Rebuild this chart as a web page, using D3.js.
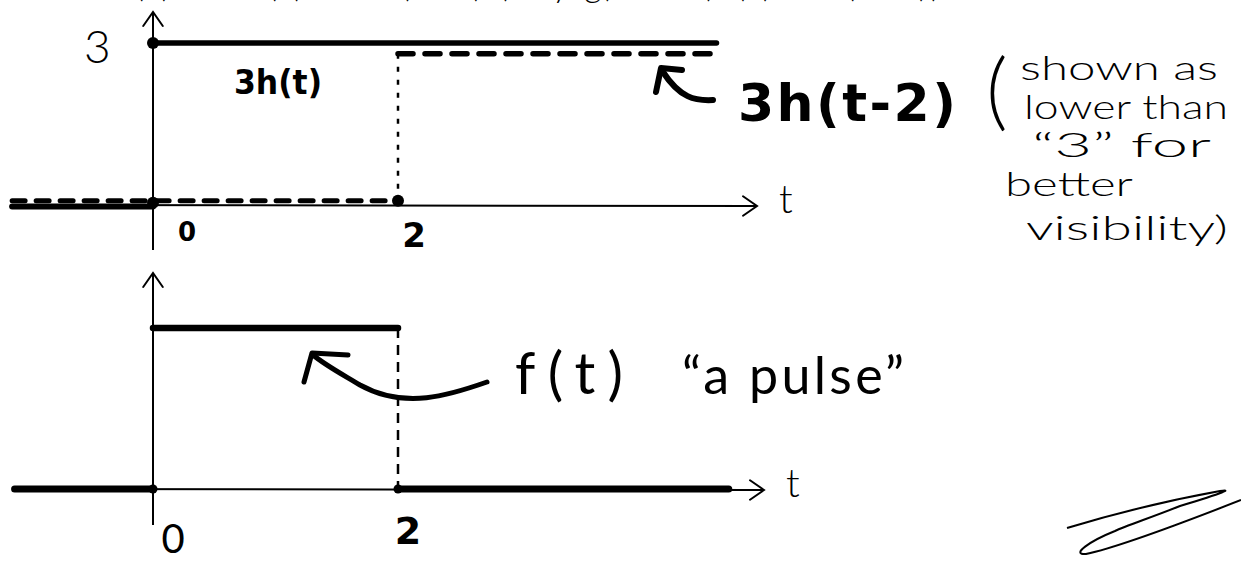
<!DOCTYPE html>
<html>
<head>
<meta charset="utf-8">
<script src="https://cdn.jsdelivr.net/npm/d3@7"></script>
<style>
  html, body { margin: 0; padding: 0; background: #ffffff; }
  svg { display: block; }
</style>
</head>
<body>
<div id="sketch"></div>
<script>
// Hand sketch: 3h(t) and 3h(t-2) on top, their difference f(t) (a pulse) below

const tTicks = [0, 2];

// top panel: the two shifted steps
const step3h = [[0, 3], [4.6, 3]];
const step3hZero = [[-1.15, -0.03], [0, -0.03]];
// 3h(t-2) is drawn a bit lower than 3 so the two lines stay apart
const step3hShift = [[2, 2.8], [4.55, 2.8]];
const step3hShiftZero = [[-1.15, 0.08], [2, 0.08]];

// bottom panel: the pulse f(t) = 3h(t) - 3h(t-2)
const pulseOn = [[0, 3], [2, 3]];
const pulseOffLeft = [[-1.13, 0], [0, 0]];
const pulseOffRight = [[2, 0], [4.7, 0]];

const noteLines = ["shown as", "lower than", "\u201c3\u201d for", "better", "visibility)"];

function draw() {
  const width = 1241;
  const height = 571;
  const ink = "#000000";
  const fontPen = '"Lato", "DejaVu Sans", sans-serif';
  const fontBold = '"DejaVu Sans", "Noto Sans", sans-serif';

  const svg = d3.select("#sketch")
    .append("svg")
    .attr("width", width)
    .attr("height", height)
    .attr("viewBox", [0, 0, width, height]);

  svg.append("rect").attr("width", width).attr("height", height).attr("fill", "#fff");

  const x = d3.scaleLinear().domain([0, 2]).range([153, 398]);
  const yTop = d3.scaleLinear().domain([0, 3]).range([205, 43]);
  const yBot = d3.scaleLinear().domain([0, 3]).range([489, 328]);

  // line of writing cut off by the top edge, only its descenders show
  svg.append("text")
    .attr("x", 120)
    .attr("y", -3)
    .attr("fill", ink)
    .attr("font-size", 34)
    .attr("font-weight", 300)
    .attr("font-family", fontPen)
    .attr("textLength", 820)
    .text("f(t) = 3h(t) \u2212 3h(t\u22122)   (any g)  =  3 (h(t) \u2212 h(t\u22122))");

  function seg(g, y, pts, width, dash) {
    g.append("path")
      .attr("d", d3.line().x(function(d) { return x(d[0]); }).y(function(d) { return y(d[1]); })(pts))
      .attr("fill", "none")
      .attr("stroke", ink)
      .attr("stroke-width", width)
      .attr("stroke-linecap", "round")
      .attr("stroke-dasharray", dash || null);
  }

  function arrowHead(g, px, py, dir, size) {
    // open V arrow head, dir = "up" or "right"
    let d;
    if (dir === "up") {
      d = "M" + (px - size * 0.7) + "," + (py + size) + "L" + px + "," + py + "L" + (px + size * 0.7) + "," + (py + size);
    } else {
      d = "M" + (px - size) + "," + (py - size * 0.7) + "L" + px + "," + py + "L" + (px - size) + "," + (py + size * 0.7);
    }
    g.append("path").attr("d", d).attr("fill", "none")
      .attr("stroke", ink).attr("stroke-width", 2).attr("stroke-linecap", "round");
  }

  function axes(g, y, yLow, yHigh, xEnd) {
    g.append("line")
      .attr("x1", x(0)).attr("x2", x(0))
      .attr("y1", yLow).attr("y2", yHigh)
      .attr("stroke", ink).attr("stroke-width", 2);
    arrowHead(g, x(0), yHigh, "up", 14);
    g.append("line")
      .attr("x1", x(-1.15)).attr("x2", xEnd)
      .attr("y1", y(0)).attr("y2", y(0) + 1)
      .attr("stroke", ink).attr("stroke-width", 2);
    arrowHead(g, xEnd, y(0) + 1, "right", 14);
    g.append("text")
      .attr("x", xEnd + 22).attr("y", y(0) + 8)
      .attr("fill", ink).attr("font-size", 40).attr("font-weight", 300)
      .attr("font-family", fontPen).text("t");
  }

  // ---------- top panel ----------
  const top = svg.append("g");
  axes(top, yTop, 250, 12, 757);

  top.append("text")
    .attr("x", 84).attr("y", 63)
    .attr("fill", ink).attr("font-size", 46).attr("font-weight", 300)
    .attr("font-family", fontPen).text("3");

  seg(top, yTop, step3hZero, 6);
  seg(top, yTop, step3h, 5.5);
  seg(top, yTop, step3hShiftZero, 5, "13,11");
  seg(top, yTop, step3hShift, 5.5, "15,12");
  // dotted drop at t = 2
  top.append("line")
    .attr("x1", x(2)).attr("x2", x(2))
    .attr("y1", yTop(2.8)).attr("y2", yTop(0.08))
    .attr("stroke", ink).attr("stroke-width", 2.5).attr("stroke-dasharray", "5,8");

  [[0, 3], [0, 0.04], [2, 0.08]].forEach(function(p) {
    top.append("circle").attr("cx", x(p[0])).attr("cy", yTop(p[1])).attr("r", 6).attr("fill", ink);
  });

  top.selectAll("text.tick")
    .data(tTicks)
    .join("text")
    .attr("class", "tick")
    .attr("x", function(d) { return x(d) + (d === 0 ? 34 : 16); })
    .attr("y", function(d) { return d === 0 ? 241 : 247; })
    .attr("text-anchor", "middle")
    .attr("fill", ink)
    .attr("font-size", function(d) { return d === 0 ? 26 : 34; })
    .attr("font-weight", "bold")
    .attr("font-family", fontBold)
    .text(function(d) { return d; });

  top.append("text")
    .attr("x", 234).attr("y", 94)
    .attr("fill", ink).attr("font-size", 34).attr("font-weight", "bold")
    .attr("font-family", fontBold).attr("textLength", 88)
    .attr("lengthAdjust", "spacingAndGlyphs")
    .text("3h(t)");

  // curved pointer to the dashed line
  top.append("path")
    .attr("d", "M713,100 C695,101 680,98 663,72")
    .attr("fill", "none").attr("stroke", ink).attr("stroke-width", 6).attr("stroke-linecap", "round");
  top.append("path")
    .attr("d", "M656,92 L661,68 L682,70")
    .attr("fill", "none").attr("stroke", ink).attr("stroke-width", 6)
    .attr("stroke-linecap", "round").attr("stroke-linejoin", "round");

  top.append("text")
    .attr("x", 738).attr("y", 121)
    .attr("fill", ink).attr("font-size", 52).attr("font-weight", "bold")
    .attr("font-family", fontBold).attr("textLength", 218)
    .text("3h(t-2)");

  // side note
  const note = svg.append("g");
  note.append("text")
    .attr("x", 986).attr("y", 120)
    .attr("fill", ink).attr("font-size", 84).attr("font-weight", 300)
    .attr("font-family", fontPen).text("(");
  note.selectAll("text.note")
    .data(noteLines)
    .join("text")
    .attr("class", "note")
    .attr("x", function(d, i) { return [1020, 1024, 1032, 1005, 1026][i]; })
    .attr("y", function(d, i) { return [80, 119, 157, 196, 240][i]; })
    .attr("textLength", function(d, i) { return [198, 204, 179, 128, 202][i]; })
    .attr("lengthAdjust", "spacingAndGlyphs")
    .attr("fill", ink)
    .attr("font-size", 34)
    .attr("font-weight", 300)
    .attr("font-family", fontPen)
    .text(function(d) { return d; });

  // ---------- bottom panel ----------
  const bot = svg.append("g");
  axes(bot, yBot, 525, 273, 764);

  seg(bot, yBot, pulseOffLeft, 7);
  seg(bot, yBot, pulseOn, 6.5);
  seg(bot, yBot, pulseOffRight, 7);
  bot.append("line")
    .attr("x1", x(2)).attr("x2", x(2))
    .attr("y1", yBot(3)).attr("y2", yBot(0))
    .attr("stroke", ink).attr("stroke-width", 2.5).attr("stroke-dasharray", "10,7");
  [[0, 0], [2, 0]].forEach(function(p) {
    bot.append("circle").attr("cx", x(p[0])).attr("cy", yBot(p[1])).attr("r", 4.5).attr("fill", ink);
  });

  bot.selectAll("text.tick")
    .data(tTicks)
    .join("text")
    .attr("class", "tick")
    .attr("x", function(d) { return x(d) + (d === 0 ? 20 : 10); })
    .attr("y", function(d) { return d === 0 ? 553 : 544; })
    .attr("text-anchor", "middle")
    .attr("fill", ink)
    .attr("font-size", function(d) { return d === 0 ? 40 : 38; })
    .attr("font-weight", function(d) { return d === 0 ? 400 : "bold"; })
    .attr("font-family", function(d) { return d === 0 ? fontPen : fontBold; })
    .text(function(d) { return d; });

  // curved pointer to the pulse
  bot.append("path")
    .attr("d", "M487,382 C450,395 405,410 360,385 C340,373 325,365 313,355")
    .attr("fill", "none").attr("stroke", ink).attr("stroke-width", 5).attr("stroke-linecap", "round");
  bot.append("path")
    .attr("d", "M304,382 L312,353 L348,355")
    .attr("fill", "none").attr("stroke", ink).attr("stroke-width", 5)
    .attr("stroke-linecap", "round").attr("stroke-linejoin", "round");

  bot.append("text")
    .attr("x", 515).attr("y", 394)
    .attr("fill", ink).attr("font-size", 58).attr("font-weight", 400)
    .attr("font-family", fontPen).attr("textLength", 108)
    .text("f(t)");
  bot.append("text")
    .attr("x", 682).attr("y", 394)
    .attr("fill", ink).attr("font-size", 52).attr("font-weight", 400)
    .attr("font-family", fontPen).attr("textLength", 222)
    .text("\u201ca pulse\u201d");

  // signature squiggle
  svg.append("path")
    .attr("d", "M1067,528 C1110,515 1170,500 1220,491 C1232,489 1226,492 1180,506 C1150,518 1125,526 1115,531 C1090,541 1070,555 1086,554 C1120,547 1190,520 1241,500")
    .attr("fill", "none").attr("stroke", ink).attr("stroke-width", 2);
}

if (document.readyState === "loading") {
  document.addEventListener("DOMContentLoaded", draw);
} else {
  draw();
}
</script>
</body>
</html>
